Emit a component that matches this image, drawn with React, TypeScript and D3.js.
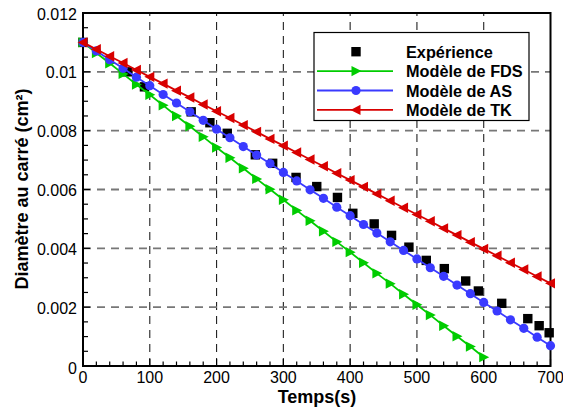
import React from "react";
import * as d3 from "d3";

const W = 563;
const H = 413;

const xTicks = [0, 100, 200, 300, 400, 500, 600, 700];
const yTicks = [0, 0.002, 0.004, 0.006, 0.008, 0.01, 0.012];
const yTickLabels = ["0", "0.002", "0.004", "0.006", "0.008", "0.01", "0.012"];

const expTime = [0, 67, 92, 162, 190, 216, 258, 284, 319, 350, 381, 404, 436, 462, 488, 514, 541, 573, 592, 627, 666, 683, 698];
const expValue = [0.011, 0.0100, 0.00949, 0.00864, 0.00827, 0.00791, 0.00718, 0.00689, 0.00641, 0.0061, 0.00573, 0.00519, 0.00483, 0.00444, 0.00404, 0.00359, 0.00331, 0.00289, 0.00255, 0.00213, 0.00161, 0.00137, 0.00113];

const fdsTime = [0, 20, 40, 60, 80, 100, 120, 140, 160, 180, 200, 220, 240, 260, 280, 300, 320, 340, 360, 380, 400, 420, 440, 460, 480, 500, 520, 540, 560, 580, 600];
const fdsValue = [0.011, 0.01064, 0.01029, 0.00993, 0.00957, 0.00922, 0.00886, 0.0085, 0.00815, 0.00779, 0.00743, 0.00708, 0.00672, 0.00636, 0.00601, 0.00565, 0.00529, 0.00494, 0.00458, 0.00422, 0.00387, 0.00351, 0.00315, 0.0028, 0.00244, 0.00208, 0.00173, 0.00137, 0.00101, 0.00066, 0.0003];

const asTime = [0, 20, 40, 60, 80, 100, 120, 140, 160, 180, 200, 220, 240, 260, 280, 300, 320, 340, 360, 380, 400, 420, 440, 460, 480, 500, 520, 540, 560, 580, 600, 620, 640, 660, 680, 700];
const asValue = [0.011, 0.01071, 0.01041, 0.01012, 0.00982, 0.00953, 0.00923, 0.00894, 0.00864, 0.00835, 0.00805, 0.00776, 0.00746, 0.00717, 0.00688, 0.00658, 0.00629, 0.00599, 0.0057, 0.0054, 0.00511, 0.00481, 0.00452, 0.00422, 0.00393, 0.00364, 0.00334, 0.00305, 0.00275, 0.00246, 0.00216, 0.00187, 0.00157, 0.00128, 0.00098, 0.00069];

const tkTime = [0, 20, 40, 60, 80, 100, 120, 140, 160, 180, 200, 220, 240, 260, 280, 300, 320, 340, 360, 380, 400, 420, 440, 460, 480, 500, 520, 540, 560, 580, 600, 620, 640, 660, 680, 700];
const tkValue = [0.011, 0.01077, 0.01053, 0.0103, 0.01006, 0.00983, 0.0096, 0.00936, 0.00913, 0.00889, 0.00866, 0.00843, 0.00819, 0.00796, 0.00772, 0.00749, 0.00726, 0.00702, 0.00679, 0.00655, 0.00632, 0.00609, 0.00585, 0.00562, 0.00538, 0.00515, 0.00492, 0.00468, 0.00445, 0.00421, 0.00398, 0.00375, 0.00351, 0.00328, 0.00304, 0.00281];

const legendLabels = ["Expérience", "Modèle de FDS", "Modèle de AS", "Modèle de TK"];

const GREEN = "#00cc00";
const BLUE = "#3a3aff";
const RED = "#d80000";
const FONT = "'Liberation Sans', Arial, Helvetica, sans-serif";

const x = d3.scaleLinear().domain([0, 700]).range([83, 550.5]);
const y = d3.scaleLinear().domain([0, 0.012]).range([366, 13]);

type Pt = [number, number];
const zip = (t: number[], v: number[]): Pt[] => t.map((d, i) => [d, v[i]]);

const line = d3
  .line<Pt>()
  .x((d) => x(d[0]))
  .y((d) => y(d[1]));

const triRight = "M-4.5,-5.2L5.5,0L-4.5,5.2Z";
const triLeft = "M4.5,-5.2L-5.5,0L4.5,5.2Z";

function Marker({ kind, cx, cy, color }: { kind: string; cx: number; cy: number; color: string }) {
  if (kind === "square") return <rect x={cx - 4.7} y={cy - 4.7} width={9.4} height={9.4} fill={color} />;
  if (kind === "circle") return <circle cx={cx} cy={cy} r={4.6} fill={color} />;
  return <path d={kind === "right" ? triRight : triLeft} transform={`translate(${cx},${cy})`} fill={color} />;
}

export default function App() {
  const xMinor = d3.range(0, 701, 20).filter((d) => d % 100 !== 0);
  const yMinor = d3.range(0, 12.01, 0.5).filter((d) => Math.abs(d % 2) > 0.01).map((d) => d / 1000);

  const series = [
    { t: fdsTime, v: fdsValue, color: GREEN, kind: "right" },
    { t: asTime, v: asValue, color: BLUE, kind: "circle" },
    { t: tkTime, v: tkValue, color: RED, kind: "left" },
  ];

  const legendItems = [
    { label: legendLabels[0], color: "#000", kind: "square", line: false },
    { label: legendLabels[1], color: GREEN, kind: "right", line: true },
    { label: legendLabels[2], color: BLUE, kind: "circle", line: true },
    { label: legendLabels[3], color: RED, kind: "left", line: true },
  ];

  return (
    <svg width={W} height={H} style={{ position: "absolute", left: 0, top: 0, background: "#fff" }} fontFamily={FONT}>
      <rect width={W} height={H} fill="#fff" />
      {/* grid */}
      {xTicks.slice(1, -1).map((t) => (
        <line key={"gx" + t} x1={x(t)} x2={x(t)} y1={y(0)} y2={y(0.012)} stroke="#222" strokeWidth={1.1} strokeDasharray="8,6" />
      ))}
      {yTicks.slice(1, -1).map((t) => (
        <line key={"gy" + t} x1={x(0)} x2={x(700)} y1={y(t)} y2={y(t)} stroke="#777" strokeWidth={1.8} strokeDasharray="8,6" />
      ))}
      {/* ticks */}
      {xTicks.map((t) => (
        <line key={"tx" + t} x1={x(t)} x2={x(t)} y1={y(0)} y2={y(0) - 7} stroke="#000" strokeWidth={1.2} />
      ))}
      {xMinor.map((t) => (
        <line key={"mx" + t} x1={x(t)} x2={x(t)} y1={y(0)} y2={y(0) - 4.5} stroke="#000" strokeWidth={1.2} />
      ))}
      {yTicks.map((t) => (
        <line key={"ty" + t} x1={x(0)} x2={x(0) + 7} y1={y(t)} y2={y(t)} stroke="#000" strokeWidth={1.2} />
      ))}
      {yMinor.map((t) => (
        <line key={"my" + t} x1={x(0)} x2={x(0) + 5} y1={y(t)} y2={y(t)} stroke="#000" strokeWidth={1.2} />
      ))}
      {/* frame */}
      <rect x={x(0)} y={y(0.012)} width={x(700) - x(0)} height={y(0) - y(0.012)} fill="none" stroke="#000" strokeWidth={2} />
      {/* tick labels */}
      {xTicks.map((t) => (
        <text key={"lx" + t} x={x(t)} y={382.5} textAnchor="middle" fontSize={16} fill="#000">
          {String(t)}
        </text>
      ))}
      {yTicks.map((t, i) => (
        <text key={"ly" + t} x={77} y={y(t) + (i === 0 ? 2.5 : 1)} textAnchor="end" dominantBaseline="central" fontSize={16} fill="#000">
          {yTickLabels[i]}
        </text>
      ))}
      {/* axis titles */}
      <text x={317} y={403} textAnchor="middle" fontSize={18} fontWeight="bold" fill="#000">
        Temps(s)
      </text>
      <text transform={`translate(27.5,${189}) rotate(-90)`} textAnchor="middle" fontSize={18} fontWeight="bold" fill="#000">
        Diamètre au carré (cm²)
      </text>
      {/* experiment */}
      {zip(expTime, expValue).map((d, i) => (
        <Marker key={"e" + i} kind="square" cx={x(d[0])} cy={y(d[1])} color="#000" />
      ))}
      {/* models */}
      {series.map((s, si) => {
        const pts = zip(s.t, s.v);
        return (
          <g key={"s" + si}>
            <path d={line(pts) || ""} fill="none" stroke={s.color} strokeWidth={1.8} />
            {pts.map((d, i) => (
              <Marker key={i} kind={s.kind} cx={x(d[0])} cy={y(d[1])} color={s.color} />
            ))}
          </g>
        );
      })}
      {/* legend */}
      <rect x={314} y={32.5} width={215} height={88} fill="#fff" stroke="#000" strokeWidth={1.2} />
      {legendItems.map((it, i) => {
        const cy = 51.7 + i * 19.4;
        return (
          <g key={"lg" + i}>
            {it.line && <line x1={317} x2={393} y1={cy} y2={cy} stroke={it.color} strokeWidth={1.8} />}
            <Marker kind={it.kind} cx={356} cy={cy} color={it.color} />
            <text x={406} y={cy} dominantBaseline="central" fontSize={16.3} fontWeight="bold" fill="#000">
              {it.label}
            </text>
          </g>
        );
      })}
    </svg>
  );
}
